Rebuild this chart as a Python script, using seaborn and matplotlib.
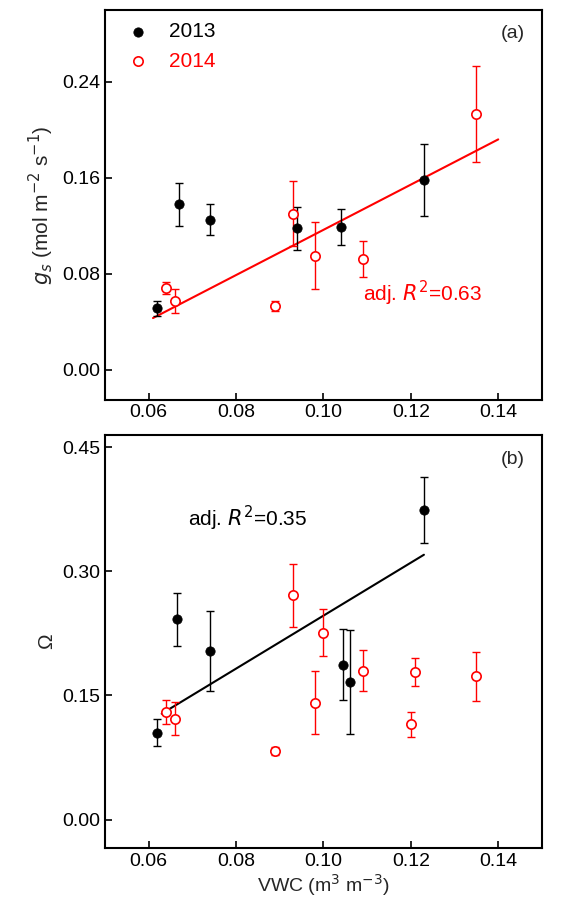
import matplotlib
matplotlib.use("Agg")
import matplotlib.pyplot as plt
import seaborn as sns
import pandas as pd

sns.set_theme(style="ticks")
plt.rcParams['font.family'] = ['Arial', 'Liberation Sans', 'DejaVu Sans']
plt.rcParams['xtick.direction'] = 'in'
plt.rcParams['ytick.direction'] = 'in'

a13_x = [0.062, 0.067, 0.074, 0.094, 0.104, 0.123]
a13_y = [0.051, 0.138, 0.125, 0.118, 0.119, 0.158]
a13_e = [0.006, 0.018, 0.013, 0.018, 0.015, 0.030]
a14_x = [0.064, 0.066, 0.089, 0.093, 0.098, 0.109, 0.135]
a14_y = [0.068, 0.057, 0.053, 0.130, 0.095, 0.092, 0.213]
a14_e = [0.005, 0.010, 0.004, 0.027, 0.028, 0.015, 0.040]
a_fit_x = [0.061, 0.140]
a_fit_y = [0.043, 0.192]

b13_x = [0.062, 0.0665, 0.074, 0.1045, 0.106, 0.123]
b13_y = [0.105, 0.242, 0.204, 0.187, 0.166, 0.374]
b13_e = [0.016, 0.032, 0.048, 0.043, 0.063, 0.040]
b14_x = [0.064, 0.066, 0.089, 0.093, 0.098, 0.100, 0.109, 0.120, 0.121, 0.135]
b14_y = [0.130, 0.122, 0.083, 0.271, 0.141, 0.226, 0.180, 0.115, 0.178, 0.173]
b14_e = [0.015, 0.020, 0.005, 0.038, 0.038, 0.028, 0.025, 0.015, 0.017, 0.030]
b_fit_x = [0.063, 0.123]
b_fit_y = [0.128, 0.320]

fig = plt.figure(figsize=(5.61, 9), dpi=100)
axa = fig.add_axes([0.187, 0.556, 0.779, 0.433])
axb = fig.add_axes([0.187, 0.058, 0.779, 0.459])

def panel(ax, x13, y13, e13, x14, y14, e14, leg):
    ax.errorbar(x13, y13, yerr=e13, fmt='none', ecolor='black', elinewidth=1, capsize=3, zorder=2)
    ax.errorbar(x14, y14, yerr=e14, fmt='none', ecolor='red', elinewidth=1, capsize=3, zorder=2)
    sns.scatterplot(x=x13, y=y13, ax=ax, color='black', s=45, edgecolor='black',
                    label='2013' if leg else None, legend=leg, zorder=3)
    sns.scatterplot(x=x14, y=y14, ax=ax, facecolor='white', s=45, edgecolor='red', linewidth=1.2,
                    label='2014' if leg else None, legend=leg, zorder=3)
    for s in ax.spines.values():
        s.set_linewidth(1.5); s.set_color('black')
    ax.tick_params(labelsize=14, width=1.2, length=5, colors='black')
    ax.set_xlim(0.05, 0.15)
    ax.set_xticks([0.06, 0.08, 0.10, 0.12, 0.14])
    ax.set_xticklabels(['0.06', '0.08', '0.10', '0.12', '0.14'])

panel(axa, a13_x, a13_y, a13_e, a14_x, a14_y, a14_e, True)
sns.lineplot(x=a_fit_x, y=a_fit_y, ax=axa, color='red', linewidth=1.5, zorder=1)
axa.set_ylim(-0.025, 0.30)
axa.set_yticks([0.0, 0.08, 0.16, 0.24])
axa.set_yticklabels(['0.00', '0.08', '0.16', '0.24'])
axa.set_ylabel(r'$g_s$ (mol m$^{-2}$ s$^{-1}$)', fontsize=15)
axa.legend(loc='upper left', frameon=False, fontsize=15, handletextpad=0.5, borderaxespad=0.2)
for t, c in zip(axa.get_legend().get_texts(), ['black', 'red']):
    t.set_color(c)
axa.text(0.96, 0.96, '(a)', transform=axa.transAxes, ha='right', va='top', fontsize=14)
axa.text(0.109, 0.057, r'adj. $R^2$=0.63', color='red', fontsize=15)

panel(axb, b13_x, b13_y, b13_e, b14_x, b14_y, b14_e, False)
sns.lineplot(x=b_fit_x, y=b_fit_y, ax=axb, color='black', linewidth=1.5, zorder=1)
axb.set_ylim(-0.034, 0.465)
axb.set_yticks([0.0, 0.15, 0.30, 0.45])
axb.set_yticklabels(['0.00', '0.15', '0.30', '0.45'])
axb.set_ylabel('Ω', fontsize=15)
axb.set_xlabel(r'VWC (m$^3$ m$^{-3}$)', fontsize=14, labelpad=2)
axb.text(0.96, 0.96, '(b)', transform=axb.transAxes, ha='right', va='top', fontsize=14)
axb.text(0.069, 0.355, r'adj. $R^2$=0.35', color='black', fontsize=15)

fig.savefig('out.png', dpi=100)
